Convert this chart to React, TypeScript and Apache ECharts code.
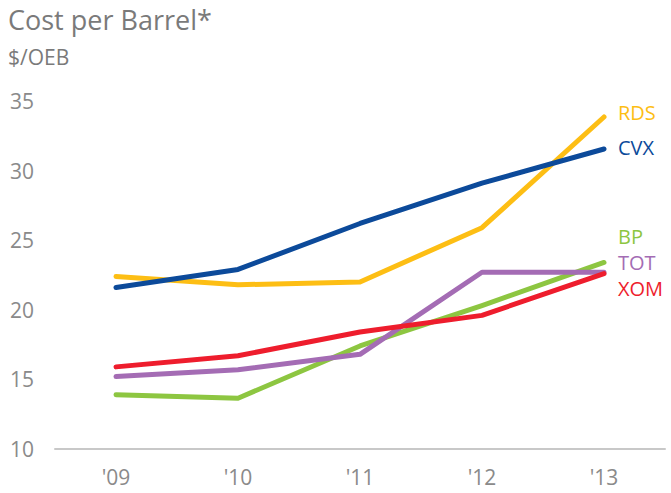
import React, { useEffect, useRef } from "react";
import * as echarts from "echarts";

const years = ["'09", "'10", "'11", "'12", "'13"];
const rds = [22.4, 21.8, 22.0, 25.9, 33.85];
const cvx = [21.6, 22.9, 26.2, 29.1, 31.55];
const bp = [13.9, 13.65, 17.4, 20.3, 23.4];
const tot = [15.2, 15.7, 16.8, 22.7, 22.7];
const xom = [15.9, 16.7, 18.4, 19.6, 22.6];
const yTicks = { min: 10, max: 35, interval: 5 };

const FONT = "'Open Sans', 'Noto Sans', sans-serif";

export default function App() {
  const ref = useRef<HTMLDivElement>(null);
  useEffect(() => {
    if (!ref.current) return;
    const chart = echarts.init(ref.current, null, { renderer: "svg" });
    const mk = (name: string, data: number[], color: string, dy: number) => ({
      name,
      type: "line",
      data,
      symbol: "none",
      smooth: false,
      lineStyle: { width: 5, color, cap: "round", join: "round" },
      itemStyle: { color },
      endLabel: {
        show: true,
        formatter: name,
        color,
        fontSize: 20,
        lineHeight: 20,
        fontFamily: FONT,
        distance: 14,
        offset: [0, dy],
      },
    });
    chart.setOption({
      animation: false,
      backgroundColor: "#ffffff",
      textStyle: { fontFamily: FONT },
      graphic: [
        {
          type: "text",
          left: 8,
          top: 4,
          style: { text: "Cost per Barrel*", fontSize: 27, lineHeight: 30, fill: "#7a7a7a", fontFamily: FONT },
        },
        {
          type: "text",
          left: 8,
          top: 45,
          style: { text: "$/OEB", fontSize: 21, lineHeight: 24, fill: "#7a7a7a", fontFamily: FONT },
        },
      ],
      grid: { left: 55, right: 6, top: 101, bottom: 44, containLabel: false },
      xAxis: {
        type: "category",
        data: years,
        boundaryGap: true,
        axisLine: { show: true, lineStyle: { color: "#c8c8c8", width: 2 } },
        axisTick: { show: false },
        axisLabel: { color: "#8a8a8a", fontSize: 21, lineHeight: 21, margin: 17, fontFamily: FONT },
        splitLine: { show: false },
      },
      yAxis: {
        type: "value",
        min: yTicks.min,
        max: yTicks.max,
        interval: yTicks.interval,
        axisLine: { show: false },
        axisTick: { show: false },
        splitLine: { show: false },
        axisLabel: { color: "#8a8a8a", fontSize: 21, margin: 21, fontFamily: FONT },
      },
      series: [
        mk("RDS", rds, "#FDBE14", -5),
        mk("CVX", cvx, "#0C4A9A", -2),
        mk("BP", bp, "#8DC641", -26),
        mk("TOT", tot, "#A46CB4", -10),
        mk("XOM", xom, "#EE1D2D", 15),
      ],
    });
    return () => chart.dispose();
  }, []);
  return <div ref={ref} style={{ width: 671, height: 493, position: "absolute", left: 0, top: 0 }} />;
}
